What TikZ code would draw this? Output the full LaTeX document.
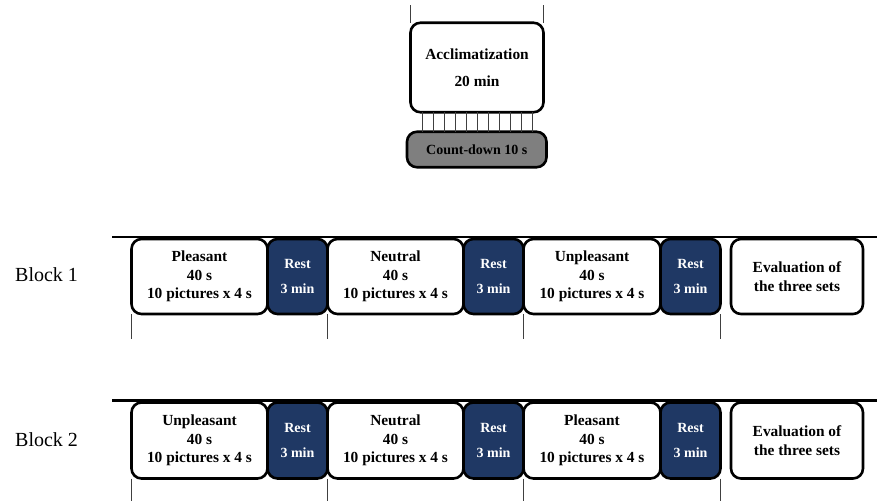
\documentclass[tikz,border=0pt]{standalone}
\usepackage{fontspec}
\setmainfont{Liberation Serif}
\definecolor{navy}{HTML}{1F3864}
\definecolor{cdgray}{HTML}{7F7F7F}
\begin{document}
\begin{tikzpicture}[x=1pt,y=-1pt,
  box/.style={draw=black,line width=2.6pt,rounded corners=10pt,fill=white,inner sep=0pt,outer sep=0pt,align=center,
    font=\fontsize{15.4}{18.5}\selectfont\bfseries},
  stim/.style={box,minimum height=75pt},
  rest/.style={box,fill=navy,text=white,minimum width=60pt,minimum height=75pt,font=\fontsize{14}{25}\selectfont\bfseries},
  evalbox/.style={box,minimum width=132pt,minimum height=75pt,font=\fontsize{15.4}{19}\selectfont\bfseries},
  thinline/.style={draw=black!75,line width=0.8pt},
  topline/.style={draw=black,line width=2.2pt},
  blocklabel/.style={anchor=west,inner sep=0pt,font=\fontsize{20}{24}\selectfont}
]
\useasboundingbox (0,0) rectangle (877,501);

% Top part
\node[box,minimum width=133pt,minimum height=89.5pt,font=\fontsize{15.4}{27}\selectfont\bfseries] (acc) at (477,67.5) {Acclimatization\\20 min};
\node[box,fill=cdgray,minimum width=139.5pt,minimum height=35.5pt,font=\fontsize{14}{17}\selectfont\bfseries] (cd) at (476.75,149.5) {Count-down 10 s};
\coordinate (accTop) at (477,5);
\draw[thinline] (acc.north west) -- (acc.north west |- accTop);
\draw[thinline] (acc.north east) -- (acc.north east |- accTop);
\foreach \i in {0,...,10}{
  \draw[thinline] ([xshift=11.5pt+11*\i pt]acc.south west) -- ([xshift=11.5pt+11*\i pt]acc.south west |- cd.north);
}

% Block 1
\node[blocklabel] (b1) at (15,275) {Block 1};
\coordinate (l1a) at (112,237);
\coordinate (l1b) at (877,237);
\draw[topline] (l1a) -- (l1b);
\node[stim,minimum width=136pt] (p1) at (199.5,276.5) {Pleasant\\40 s\\10 pictures x 4 s};
\node[rest] (r1a) at (297.5,276.5) {Rest\\3 min};
\node[stim,minimum width=136pt] (n1) at (395.5,276.5) {Neutral\\40 s\\10 pictures x 4 s};
\node[rest] (r1b) at (493.5,276.5) {Rest\\3 min};
\node[stim,minimum width=137pt] (u1) at (592,276.5) {Unpleasant\\40 s\\10 pictures x 4 s};
\node[rest] (r1c) at (690.5,276.5) {Rest\\3 min};
\node[evalbox] (e1) at (797,276.5) {Evaluation of\\the three sets};
\coordinate (v1) at (0,339);
\draw[thinline] (p1.south west) -- (p1.south west |- v1);
\draw[thinline] (r1a.south east) -- (r1a.south east |- v1);
\draw[thinline] (r1b.south east) -- (r1b.south east |- v1);
\draw[thinline] (r1c.south east) -- (r1c.south east |- v1);

% Block 2
\node[blocklabel] (b2) at (15,440) {Block 2};
\coordinate (l2a) at (112,400.5);
\coordinate (l2b) at (877,400.5);
\draw[topline] (l2a) -- (l2b);
\node[stim,minimum width=136pt,minimum height=76pt] (u2) at (199.5,440.5) {Unpleasant\\40 s\\10 pictures x 4 s};
\node[rest,minimum height=76pt] (r2a) at (297.5,440.5) {Rest\\3 min};
\node[stim,minimum width=136pt,minimum height=76pt] (n2) at (395.5,440.5) {Neutral\\40 s\\10 pictures x 4 s};
\node[rest,minimum height=76pt] (r2b) at (493.5,440.5) {Rest\\3 min};
\node[stim,minimum width=137pt,minimum height=76pt] (p2) at (592,440.5) {Pleasant\\40 s\\10 pictures x 4 s};
\node[rest,minimum height=76pt] (r2c) at (690.5,440.5) {Rest\\3 min};
\node[evalbox,minimum height=76pt] (e2) at (797,440.5) {Evaluation of\\the three sets};
\coordinate (v2) at (0,501);
\draw[thinline] (u2.south west) -- (u2.south west |- v2);
\draw[thinline] (r2a.south east) -- (r2a.south east |- v2);
\draw[thinline] (r2b.south east) -- (r2b.south east |- v2);
\draw[thinline] (r2c.south east) -- (r2c.south east |- v2);
\end{tikzpicture}
\end{document}
